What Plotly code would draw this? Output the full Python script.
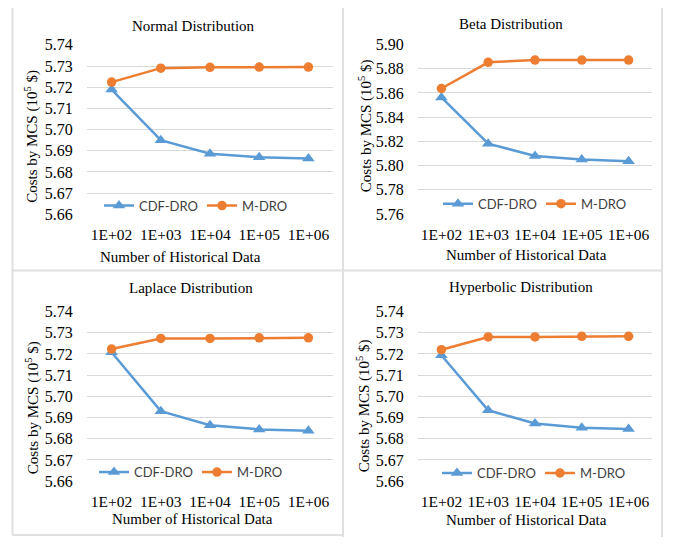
import plotly.graph_objects as go

categories = ["1E+02", "1E+03", "1E+04", "1E+05", "1E+06"]

normal_cdf = [5.7189, 5.6950, 5.6886, 5.6870, 5.6864]
normal_m = [5.7224, 5.7290, 5.7294, 5.7295, 5.7295]
beta_cdf = [5.8563, 5.8181, 5.8080, 5.8051, 5.8037]
beta_m = [5.8637, 5.8853, 5.8872, 5.8872, 5.8872]
laplace_cdf = [5.7208, 5.6930, 5.6864, 5.6844, 5.6838]
laplace_m = [5.7223, 5.7273, 5.7273, 5.7276, 5.7276]
hyper_cdf = [5.7194, 5.6934, 5.6872, 5.6852, 5.6846]
hyper_m = [5.7220, 5.7280, 5.7280, 5.7283, 5.7283]

titles = ["Normal Distribution", "Beta Distribution", "Laplace Distribution", "Hyperbolic Distribution"]
series = [(normal_cdf, normal_m), (beta_cdf, beta_m), (laplace_cdf, laplace_m), (hyper_cdf, hyper_m)]
yranges = [(5.66, 5.74, 0.01), (5.76, 5.90, 0.02), (5.66, 5.74, 0.01), (5.66, 5.74, 0.01)]

W, H = 677, 546
BLUE = "#5B9BD5"
ORANGE = "#ED7D31"
SERIF = "Liberation Serif"
SANS = "Lato"


def px(x):
    return x / W


def py(y):
    return 1 - y / H


# layout geometry (pixels)
plot_x = [(87, 333), (418, 652), (87, 333), (418, 652)]
plot_y = [(38, 213), (37.7, 212.7), (313.3, 488.3), (313.3, 488.3)]
title_pos = [(193, 19), (511, 16), (191, 289), (521, 288)]
xtitle_pos = [(180, 257), (526, 255), (192, 527), (526, 528)]
ytitle_pos = [(32, 133), (365, 122), (32, 413), (363, 411)]
legend_pos = [(202, 204), (541, 202), (197, 479), (540, 480)]

fig = go.Figure()
layout = dict(
    width=W, height=H,
    margin=dict(l=0, r=0, t=0, b=0),
    paper_bgcolor="white", plot_bgcolor="white",
    font=dict(family=SERIF, size=15, color="#000"),
    annotations=[], shapes=[],
)

for i in range(4):
    s = "" if i == 0 else str(i + 1)
    leg = "legend" if i == 0 else f"legend{i + 1}"
    cdf, m = series[i]
    fig.add_trace(go.Scatter(
        x=categories, y=cdf, name="CDF-DRO", mode="lines+markers",
        line=dict(color=BLUE, width=2.5),
        marker=dict(symbol="triangle-up", size=11, color=BLUE),
        xaxis="x" + s, yaxis="y" + s, legend=leg,
    ))
    fig.add_trace(go.Scatter(
        x=categories, y=m, name="M-DRO", mode="lines+markers",
        line=dict(color=ORANGE, width=2.5),
        marker=dict(symbol="circle", size=9.5, color=ORANGE),
        xaxis="x" + s, yaxis="y" + s, legend=leg,
    ))
    y0, y1, dt = yranges[i]
    layout["xaxis" + s] = dict(
        domain=[px(plot_x[i][0]), px(plot_x[i][1])],
        anchor="y" + s, type="category", range=[-0.5, 4.5],
        showgrid=False, showline=False, zeroline=False,
        ticks="outside", ticklen=6, tickcolor="rgba(0,0,0,0)",
        tickfont=dict(family=SERIF, size=15.5, color="#000"),
    )
    layout["yaxis" + s] = dict(
        domain=[py(plot_y[i][1]), py(plot_y[i][0])],
        anchor="x" + s, range=[y0, y1], dtick=dt, tick0=y0,
        tickformat=".2f", showgrid=True, gridcolor="#d9d9d9", gridwidth=1,
        showline=False, zeroline=False,
        ticks="outside", ticklen=10, tickcolor="rgba(0,0,0,0)",
        tickfont=dict(family=SERIF, size=16, color="#000"),
    )
    layout[leg] = dict(
        orientation="h", x=px(legend_pos[i][0]), y=py(legend_pos[i][1]),
        xanchor="center", yanchor="middle", bgcolor="rgba(0,0,0,0)",
        font=dict(family=SANS, size=13, color="#404040"),
        itemwidth=30, tracegroupgap=0, entrywidth=58, entrywidthmode="pixels",
    )
    layout["annotations"].append(dict(
        text=titles[i], x=px(title_pos[i][0]), y=py(title_pos[i][1]),
        xref="paper", yref="paper", showarrow=False,
        xanchor="center", yanchor="middle",
        font=dict(family=SERIF, size=15, color="#000"),
    ))
    layout["annotations"].append(dict(
        text="Number of Historical Data", x=px(xtitle_pos[i][0]), y=py(xtitle_pos[i][1]),
        xref="paper", yref="paper", showarrow=False,
        xanchor="center", yanchor="middle",
        font=dict(family=SERIF, size=15, color="#000"),
    ))
    layout["annotations"].append(dict(
        text="Costs by MCS (10<sup>5</sup> $)", x=px(ytitle_pos[i][0]), y=py(ytitle_pos[i][1]),
        xref="paper", yref="paper", showarrow=False, textangle=-90,
        xanchor="center", yanchor="middle",
        font=dict(family=SERIF, size=15, color="#000"),
    ))

border = dict(color="#e0e0e0", width=2)
for (x0, y0, x1, y1) in [(12.5, 0, 12.5, 544), (343, 0, 343, 546), (662, 0, 662, 546),
                         (12.5, 271, 662, 271), (12.5, 544, 343, 544)]:
    layout["shapes"].append(dict(type="line", xref="paper", yref="paper",
                                 x0=px(x0), y0=py(y0), x1=px(x1), y1=py(y1),
                                 line=border, layer="below"))

fig.update_layout(**layout)
fig.write_html(
    "out.html",
    config={"displayModeBar": False},
    post_script="document.body.style.margin='0';document.body.style.overflow='hidden';",
)
